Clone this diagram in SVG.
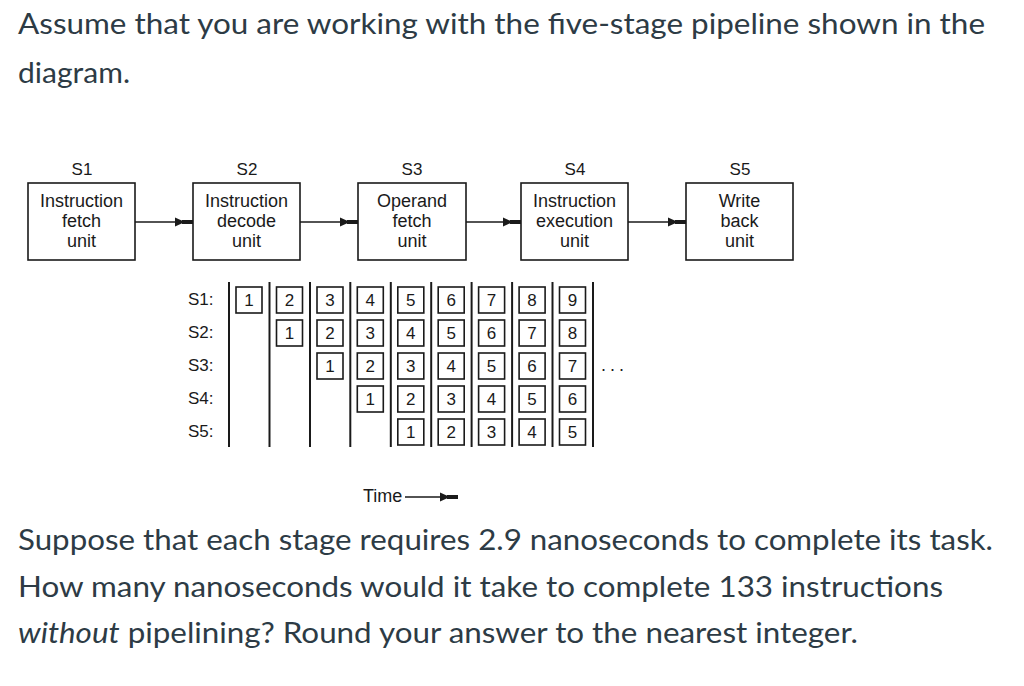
<svg xmlns="http://www.w3.org/2000/svg" width="1024" height="686" viewBox="0 0 1024 686">
<style>
.q{font-family:Lato,"Open Sans","Noto Sans",sans-serif;font-size:28px;fill:#2d3b45}
.d{font-family:"Liberation Sans",Arial,sans-serif;fill:#1a1a1a}
.st{font-size:17px;text-anchor:middle}
.bt{font-size:18px;text-anchor:middle}
.rl{font-size:17px}
.num{font-size:17px;text-anchor:middle}
.box{fill:#fff;stroke:#1a1a1a;stroke-width:1.6}
.cell{fill:#fff;stroke:#1a1a1a;stroke-width:1.6}
.vl{stroke:#1a1a1a;stroke-width:2}
.cn{stroke:#1a1a1a;stroke-width:1.6;fill:none}
</style>
<defs>
<marker id="ah" viewBox="0 0 18 10" refX="18" refY="5" markerWidth="18" markerHeight="10" markerUnits="userSpaceOnUse" orient="auto">
<path d="M0,0.5 L10,5 L0,9.5 Z" fill="#1a1a1a"/>
<rect x="7" y="3" width="11" height="4" fill="#1a1a1a"/>
</marker>
</defs>
<rect width="1024" height="686" fill="#fff"/>
<text class="q" x="18" y="34" textLength="967" lengthAdjust="spacingAndGlyphs">Assume that you are working with the five-stage pipeline shown in the</text>
<text class="q" x="18" y="83" textLength="112" lengthAdjust="spacingAndGlyphs">diagram.</text>

<g id="connectors">
<line class="cn" x1="135" y1="222" x2="193" y2="222" marker-end="url(#ah)"/>
<line class="cn" x1="300" y1="222" x2="358" y2="222" marker-end="url(#ah)"/>
<line class="cn" x1="466" y1="222" x2="521" y2="222" marker-end="url(#ah)"/>
<line class="cn" x1="628" y1="222" x2="686" y2="222" marker-end="url(#ah)"/>
</g>

<g id="s1" class="d">
<text class="st" x="82" y="175">S1</text>
<rect class="box" x="28" y="183" width="107" height="77"/>
<text class="bt" x="81.5" y="207">Instruction</text>
<text class="bt" x="81.5" y="227">fetch</text>
<text class="bt" x="81.5" y="247">unit</text>
</g>
<g id="s2" class="d">
<text class="st" x="247" y="175">S2</text>
<rect class="box" x="193" y="183" width="107" height="77"/>
<text class="bt" x="246.5" y="207">Instruction</text>
<text class="bt" x="246.5" y="227">decode</text>
<text class="bt" x="246.5" y="247">unit</text>
</g>
<g id="s3" class="d">
<text class="st" x="412" y="175">S3</text>
<rect class="box" x="358" y="183" width="108" height="77"/>
<text class="bt" x="412" y="207">Operand</text>
<text class="bt" x="412" y="227">fetch</text>
<text class="bt" x="412" y="247">unit</text>
</g>
<g id="s4" class="d">
<text class="st" x="575" y="175">S4</text>
<rect class="box" x="521" y="183" width="107" height="77"/>
<text class="bt" x="574.5" y="207">Instruction</text>
<text class="bt" x="574.5" y="227">execution</text>
<text class="bt" x="574.5" y="247">unit</text>
</g>
<g id="s5" class="d">
<text class="st" x="740" y="175">S5</text>
<rect class="box" x="686" y="183" width="107" height="77"/>
<text class="bt" x="739.5" y="207">Write</text>
<text class="bt" x="739.5" y="227">back</text>
<text class="bt" x="739.5" y="247">unit</text>
</g>

<g id="timing" class="d">
<text class="rl" x="188" y="305">S1:</text>
<text class="rl" x="188" y="338">S2:</text>
<text class="rl" x="188" y="371">S3:</text>
<text class="rl" x="188" y="404">S4:</text>
<text class="rl" x="188" y="437">S5:</text>
<g>
<line class="vl" x1="229" y1="282" x2="229" y2="447"/>
<line class="vl" x1="269.5" y1="282" x2="269.5" y2="447"/>
<line class="vl" x1="310" y1="282" x2="310" y2="447"/>
<line class="vl" x1="350.3" y1="282" x2="350.3" y2="447"/>
<line class="vl" x1="390.8" y1="282" x2="390.8" y2="447"/>
<line class="vl" x1="431.2" y1="282" x2="431.2" y2="447"/>
<line class="vl" x1="471.6" y1="282" x2="471.6" y2="447"/>
<line class="vl" x1="512.1" y1="282" x2="512.1" y2="447"/>
<line class="vl" x1="552.5" y1="282" x2="552.5" y2="447"/>
<line class="vl" x1="593" y1="282" x2="593" y2="447"/>
</g>
<!-- row S1 -->
<g>
<rect class="cell" x="236" y="287" width="26" height="26"/><text class="num" x="249" y="306">1</text>
<rect class="cell" x="276.5" y="287" width="26" height="26"/><text class="num" x="289.5" y="306">2</text>
<rect class="cell" x="317" y="287" width="26" height="26"/><text class="num" x="330" y="306">3</text>
<rect class="cell" x="357.3" y="287" width="26" height="26"/><text class="num" x="370.3" y="306">4</text>
<rect class="cell" x="397.8" y="287" width="26" height="26"/><text class="num" x="410.8" y="306">5</text>
<rect class="cell" x="438.2" y="287" width="26" height="26"/><text class="num" x="451.2" y="306">6</text>
<rect class="cell" x="478.6" y="287" width="26" height="26"/><text class="num" x="491.6" y="306">7</text>
<rect class="cell" x="519.1" y="287" width="26" height="26"/><text class="num" x="532.1" y="306">8</text>
<rect class="cell" x="559.5" y="287" width="26" height="26"/><text class="num" x="572.5" y="306">9</text>
</g>
<!-- row S2 -->
<g>
<rect class="cell" x="276.5" y="320" width="26" height="26"/><text class="num" x="289.5" y="339">1</text>
<rect class="cell" x="317" y="320" width="26" height="26"/><text class="num" x="330" y="339">2</text>
<rect class="cell" x="357.3" y="320" width="26" height="26"/><text class="num" x="370.3" y="339">3</text>
<rect class="cell" x="397.8" y="320" width="26" height="26"/><text class="num" x="410.8" y="339">4</text>
<rect class="cell" x="438.2" y="320" width="26" height="26"/><text class="num" x="451.2" y="339">5</text>
<rect class="cell" x="478.6" y="320" width="26" height="26"/><text class="num" x="491.6" y="339">6</text>
<rect class="cell" x="519.1" y="320" width="26" height="26"/><text class="num" x="532.1" y="339">7</text>
<rect class="cell" x="559.5" y="320" width="26" height="26"/><text class="num" x="572.5" y="339">8</text>
</g>
<!-- row S3 -->
<g>
<rect class="cell" x="317" y="353" width="26" height="26"/><text class="num" x="330" y="372">1</text>
<rect class="cell" x="357.3" y="353" width="26" height="26"/><text class="num" x="370.3" y="372">2</text>
<rect class="cell" x="397.8" y="353" width="26" height="26"/><text class="num" x="410.8" y="372">3</text>
<rect class="cell" x="438.2" y="353" width="26" height="26"/><text class="num" x="451.2" y="372">4</text>
<rect class="cell" x="478.6" y="353" width="26" height="26"/><text class="num" x="491.6" y="372">5</text>
<rect class="cell" x="519.1" y="353" width="26" height="26"/><text class="num" x="532.1" y="372">6</text>
<rect class="cell" x="559.5" y="353" width="26" height="26"/><text class="num" x="572.5" y="372">7</text>
</g>
<!-- row S4 -->
<g>
<rect class="cell" x="357.3" y="386" width="26" height="26"/><text class="num" x="370.3" y="405">1</text>
<rect class="cell" x="397.8" y="386" width="26" height="26"/><text class="num" x="410.8" y="405">2</text>
<rect class="cell" x="438.2" y="386" width="26" height="26"/><text class="num" x="451.2" y="405">3</text>
<rect class="cell" x="478.6" y="386" width="26" height="26"/><text class="num" x="491.6" y="405">4</text>
<rect class="cell" x="519.1" y="386" width="26" height="26"/><text class="num" x="532.1" y="405">5</text>
<rect class="cell" x="559.5" y="386" width="26" height="26"/><text class="num" x="572.5" y="405">6</text>
</g>
<!-- row S5 -->
<g>
<rect class="cell" x="397.8" y="419" width="26" height="26"/><text class="num" x="410.8" y="438">1</text>
<rect class="cell" x="438.2" y="419" width="26" height="26"/><text class="num" x="451.2" y="438">2</text>
<rect class="cell" x="478.6" y="419" width="26" height="26"/><text class="num" x="491.6" y="438">3</text>
<rect class="cell" x="519.1" y="419" width="26" height="26"/><text class="num" x="532.1" y="438">4</text>
<rect class="cell" x="559.5" y="419" width="26" height="26"/><text class="num" x="572.5" y="438">5</text>
</g>
<text x="601" y="371" font-size="18" letter-spacing="4">...</text>
<text x="363" y="502" font-size="18">Time</text>
<line class="cn" x1="405" y1="497" x2="458" y2="497" marker-end="url(#ah)"/>
</g>

<text class="q" x="18" y="550" textLength="975" lengthAdjust="spacingAndGlyphs">Suppose that each stage requires 2.9 nanoseconds to complete its task.</text>
<text class="q" x="18" y="597" textLength="925" lengthAdjust="spacingAndGlyphs">How many nanoseconds would it take to complete 133 instructions</text>
<text class="q" x="18" y="643" textLength="840" lengthAdjust="spacingAndGlyphs"><tspan font-style="italic">without</tspan> pipelining? Round your answer to the nearest integer.</text>
</svg>
